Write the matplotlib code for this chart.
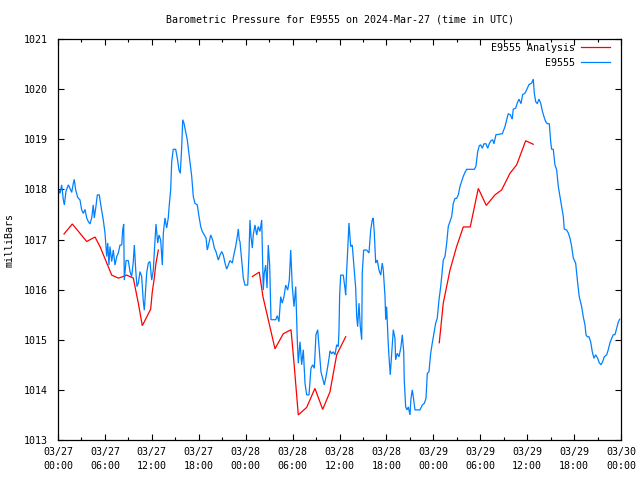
import numpy as np
import matplotlib
matplotlib.use("Agg")
import matplotlib.pyplot as plt
from matplotlib.lines import Line2D

# ---- data (hours since 2024-03-27 00:00 UTC, pressure in mbar) ----
station_hours = [
    0.00, 0.26, 0.47, 0.68, 0.81, 1.02, 1.32, 1.53, 1.75, 1.96, 2.08, 2.26, 2.52, 2.81, 3.03, 3.24, 3.45, 3.67, 3.87, 4.09,
    4.31, 4.51, 4.64, 4.82, 5.03, 5.28, 5.50, 5.79, 6.01, 6.23, 6.36, 6.52, 6.65, 6.87, 7.07, 7.29, 7.51, 7.71, 7.93, 8.15,
    8.27, 8.40, 8.48, 8.70, 8.99, 9.21, 9.42, 9.63, 9.76, 9.94, 10.10, 10.27, 10.49, 10.70, 10.91, 11.04, 11.34, 11.55, 11.76, 11.98,
    12.19, 12.31, 12.53, 12.75, 12.92, 13.13, 13.34, 13.47, 13.68, 13.90, 14.10, 14.23, 14.41, 14.54, 14.74, 15.05, 15.26, 15.47, 15.64, 15.82,
    15.95, 16.11, 16.33, 16.53, 16.79, 17.10, 17.30, 17.52, 17.81, 18.03, 18.25, 18.45, 18.71, 18.93, 19.09, 19.31, 19.53, 19.78, 19.99, 20.20,
    20.50, 20.72, 20.93, 21.14, 21.36, 21.57, 21.78, 21.99, 22.29, 22.51, 22.72, 22.93, 23.06, 23.18, 23.27, 23.49, 23.70, 23.91, 24.26, 24.42,
    24.55, 24.68, 24.85, 24.97, 25.19, 25.41, 25.61, 25.83, 26.05, 26.25, 26.38, 26.56, 26.73, 26.89, 27.07, 27.24, 27.53, 27.84, 28.04, 28.26,
    28.48, 28.68, 28.90, 29.12, 29.37, 29.58, 29.76, 29.96, 30.18, 30.40, 30.60, 30.73, 30.95, 31.16, 31.37, 31.59, 31.80, 32.10, 32.35, 32.57,
    32.78, 32.99, 33.21, 33.41, 33.63, 33.85, 34.05, 34.27, 34.49, 34.69, 34.78, 35.00, 35.20, 35.42, 35.64, 35.84, 35.93, 36.02, 36.15, 36.48,
    36.70, 36.79, 36.92, 37.05, 37.21, 37.43, 37.63, 37.85, 38.07, 38.20, 38.32, 38.49, 38.66, 38.84, 38.91, 39.09, 39.48, 39.77, 39.99, 40.19,
    40.32, 40.45, 40.63, 40.83, 41.05, 41.27, 41.47, 41.60, 41.82, 41.91, 42.03, 42.20, 42.33, 42.49, 42.67, 42.88, 43.09, 43.18, 43.39, 43.61,
    43.86, 44.03, 44.21, 44.28, 44.46, 44.63, 44.80, 45.01, 45.14, 45.31, 45.49, 45.65, 45.87, 46.29, 46.59, 46.84, 47.06, 47.23, 47.44, 47.66,
    47.86, 48.08, 48.30, 48.50, 48.72, 48.94, 49.07, 49.27, 49.49, 49.71, 49.91, 50.13, 50.35, 50.55, 50.77, 50.98, 51.19, 51.41, 51.62, 51.83,
    52.05, 52.26, 53.24, 53.45, 53.67, 53.87, 54.05, 54.26, 54.48, 54.73, 54.95, 55.15, 55.37, 55.59, 55.75, 56.01, 56.82, 57.16, 57.38, 57.58,
    57.84, 58.09, 58.22, 58.53, 58.73, 58.95, 59.21, 59.42, 59.72, 59.94, 60.23, 60.58, 60.78, 60.91, 61.09, 61.29, 61.51, 61.73, 61.93, 62.15,
    62.37, 62.57, 62.83, 63.01, 63.13, 63.34, 63.55, 63.77, 63.98, 64.19, 64.41, 64.62, 64.74, 65.05, 65.26, 65.47, 65.69, 65.90, 66.20, 66.46,
    66.66, 66.97, 67.17, 67.39, 67.52, 67.69, 67.90, 68.12, 68.33, 68.54, 68.76, 69.02, 69.22, 69.44, 69.65, 69.86, 70.17, 70.37, 70.59, 70.81,
    71.01, 71.23, 71.45, 71.65, 71.83,
]
station_pressure = [
    1018.03, 1017.92, 1018.09, 1017.79, 1017.69, 1017.96, 1018.09, 1018.02, 1017.94, 1018.12, 1018.20, 1017.99, 1017.84, 1017.79, 1017.59, 1017.52, 1017.60, 1017.43, 1017.36, 1017.31,
    1017.43, 1017.69, 1017.43, 1017.62, 1017.89, 1017.89, 1017.66, 1017.39, 1017.13, 1016.66, 1016.93, 1016.49, 1016.86, 1016.56, 1016.79, 1016.49, 1016.66, 1016.73, 1016.89, 1016.89,
    1017.19, 1017.31, 1016.19, 1016.58, 1016.58, 1016.36, 1016.26, 1016.56, 1016.89, 1016.39, 1016.06, 1016.13, 1016.36, 1016.26, 1015.76, 1015.59, 1016.33, 1016.53, 1016.56, 1016.19,
    1016.39, 1016.73, 1017.31, 1016.93, 1017.09, 1016.99, 1016.49, 1017.13, 1017.43, 1017.23, 1017.43, 1017.69, 1017.99, 1018.55, 1018.80, 1018.80, 1018.62, 1018.39, 1018.32, 1018.85,
    1019.39, 1019.32, 1019.15, 1018.99, 1018.65, 1018.26, 1017.86, 1017.72, 1017.69, 1017.46, 1017.26, 1017.16, 1017.09, 1017.03, 1016.79, 1016.93, 1017.09, 1016.99, 1016.83, 1016.76,
    1016.59, 1016.69, 1016.76, 1016.69, 1016.53, 1016.41, 1016.49, 1016.58, 1016.53, 1016.71, 1016.86, 1017.06, 1017.21, 1016.99, 1016.96, 1016.59, 1016.23, 1016.09, 1016.09, 1016.69,
    1017.39, 1017.06, 1016.83, 1017.09, 1017.29, 1017.09, 1017.26, 1017.16, 1017.39, 1015.99, 1016.33, 1016.49, 1016.03, 1016.89, 1016.49, 1015.40, 1015.40, 1015.40, 1015.48, 1015.36,
    1015.86, 1015.73, 1015.86, 1016.09, 1015.99, 1016.19, 1016.79, 1016.06, 1015.66, 1016.06, 1015.00, 1014.53, 1014.96, 1014.50, 1014.80, 1014.13, 1013.90, 1013.90, 1014.43, 1014.50,
    1014.43, 1015.10, 1015.20, 1014.80, 1014.36, 1014.23, 1014.10, 1014.26, 1014.46, 1014.66, 1014.78, 1014.72, 1014.76, 1014.70, 1014.90, 1014.86, 1015.16, 1015.89, 1016.29, 1016.29,
    1016.03, 1015.89, 1016.39, 1016.79, 1017.33, 1016.86, 1016.89, 1016.46, 1016.03, 1015.46, 1015.26, 1015.73, 1015.26, 1015.00, 1016.33, 1016.79, 1016.79, 1016.73, 1017.19, 1017.39,
    1017.43, 1017.13, 1016.53, 1016.59, 1016.39, 1016.29, 1016.53, 1016.39, 1015.86, 1015.40, 1015.66, 1015.03, 1014.66, 1014.30, 1014.73, 1015.20, 1015.03, 1014.60, 1014.73, 1014.66,
    1014.86, 1015.10, 1014.76, 1014.20, 1013.66, 1013.60, 1013.66, 1013.50, 1013.83, 1014.00, 1013.80, 1013.60, 1013.60, 1013.60, 1013.70, 1013.73, 1013.83, 1014.33, 1014.36, 1014.73,
    1014.93, 1015.13, 1015.33, 1015.43, 1015.79, 1016.06, 1016.26, 1016.59, 1016.66, 1016.93, 1017.26, 1017.36, 1017.46, 1017.72, 1017.82, 1017.82, 1017.89, 1018.06, 1018.16, 1018.26,
    1018.34, 1018.40, 1018.40, 1018.46, 1018.75, 1018.87, 1018.89, 1018.82, 1018.91, 1018.91, 1018.82, 1018.91, 1018.97, 1018.99, 1018.91, 1019.09, 1019.11, 1019.25, 1019.39, 1019.51,
    1019.49, 1019.40, 1019.60, 1019.62, 1019.72, 1019.80, 1019.71, 1019.89, 1019.92, 1019.99, 1020.09, 1020.12, 1020.20, 1019.92, 1019.75, 1019.71, 1019.80, 1019.72, 1019.57, 1019.45,
    1019.35, 1019.31, 1019.31, 1018.95, 1018.80, 1018.80, 1018.49, 1018.39, 1018.06, 1017.86, 1017.66, 1017.46, 1017.21, 1017.19, 1017.13, 1017.03, 1016.86, 1016.63, 1016.53, 1016.13,
    1015.86, 1015.66, 1015.46, 1015.30, 1015.10, 1015.06, 1015.06, 1014.96, 1014.76, 1014.63, 1014.70, 1014.63, 1014.54, 1014.50, 1014.56, 1014.66, 1014.70, 1014.80, 1014.94, 1015.03,
    1015.10, 1015.10, 1015.23, 1015.35, 1015.41,
]

# analysis series, three separate runs
analysis_hours_1 = [0.77, 1.83, 3.67, 4.73, 5.37, 6.87, 7.71, 8.15, 8.79, 9.63, 10.27, 10.78, 11.85, 12.06, 12.28, 12.53, 12.83]
analysis_pres_1 = [1017.11, 1017.31, 1016.96, 1017.05, 1016.86, 1016.29, 1016.23, 1016.25, 1016.29, 1016.23, 1015.73, 1015.28, 1015.61, 1015.96, 1016.19, 1016.53, 1016.79]
analysis_hours_2 = [24.85, 25.74, 26.21, 27.75, 28.81, 29.80, 30.18, 30.73, 31.80, 32.86, 33.85, 34.78, 35.64, 36.79]
analysis_pres_2 = [1016.26, 1016.35, 1015.86, 1014.82, 1015.12, 1015.20, 1014.54, 1013.50, 1013.65, 1014.03, 1013.61, 1013.96, 1014.70, 1015.06]
analysis_hours_3 = [48.76, 49.27, 50.13, 50.98, 51.83, 52.72, 53.75, 54.77, 55.88, 56.74, 57.80, 58.66, 59.81, 60.78]
analysis_pres_3 = [1014.94, 1015.73, 1016.39, 1016.86, 1017.25, 1017.25, 1018.02, 1017.68, 1017.89, 1017.99, 1018.32, 1018.49, 1018.97, 1018.90]

x_tick_hours = [0, 6, 12, 18, 24, 30, 36, 42, 48, 54, 60, 66, 72]
x_tick_labels = ["03/27\n00:00", "03/27\n06:00", "03/27\n12:00", "03/27\n18:00",
                 "03/28\n00:00", "03/28\n06:00", "03/28\n12:00", "03/28\n18:00",
                 "03/29\n00:00", "03/29\n06:00", "03/29\n12:00", "03/29\n18:00",
                 "03/30\n00:00"]
y_ticks = [1013, 1014, 1015, 1016, 1017, 1018, 1019, 1020, 1021]

title = "Barometric Pressure for E9555 on 2024-Mar-27 (time in UTC)"
ylabel = "milliBars"
label_analysis = "E9555 Analysis"
label_station = "E9555"

RED = "#ff0000"
BLUE = "#0080ff"
FONT = "DejaVu Sans Mono"
FS = 7.2

fig = plt.figure(figsize=(6.4, 4.8), dpi=100)
ax = fig.add_axes([58/640, 40/480, 563/640, 401/480])

for hx, py in [(analysis_hours_1, analysis_pres_1), (analysis_hours_2, analysis_pres_2), (analysis_hours_3, analysis_pres_3)]:
    ax.plot(hx, py, color=RED, lw=0.9, solid_joinstyle="miter")
ax.plot(station_hours, station_pressure, color=BLUE, lw=0.9, solid_joinstyle="miter")

ax.set_xlim(0, 72)
ax.set_ylim(1013, 1021)
ax.set_xticks(x_tick_hours)
ax.set_xticklabels(x_tick_labels, fontfamily=FONT, fontsize=FS, linespacing=1.45)
ax.set_xticks(np.arange(3, 72, 6), minor=True)
ax.set_yticks(y_ticks)
ax.set_yticklabels([str(v) for v in y_ticks], fontfamily=FONT, fontsize=FS)
ax.tick_params(axis="both", which="both", direction="in", top=True, right=True, width=0.8, colors="black")
ax.tick_params(axis="both", which="major", length=4.5)
ax.tick_params(axis="x", which="minor", length=2.5)
ax.tick_params(axis="x", which="major", pad=5)
ax.tick_params(axis="y", which="major", pad=7)
for s in ax.spines.values():
    s.set_linewidth(0.9)
    s.set_color("black")

fig.text(339.5/640, 1 - 19/480, title, ha="center", va="center", fontfamily=FONT, fontsize=FS)
fig.text(10/640, 1 - 240/480, ylabel, ha="center", va="center", rotation=90, fontfamily=FONT, fontsize=FS)

handles = [Line2D([], [], color=RED, lw=0.9), Line2D([], [], color=BLUE, lw=0.9)]
leg = ax.legend(handles, [label_analysis, label_station], loc="upper right", frameon=False,
                markerfirst=False, prop={"family": FONT, "size": FS}, handlelength=2.9,
                handletextpad=0.6, labelspacing=0.5, borderaxespad=0.3,
                bbox_to_anchor=(1.0 - 4/563, 1.0 + 3/401))
for t in leg.get_texts():
    t.set_ha("right")

fig.savefig("out.png", dpi=100)
